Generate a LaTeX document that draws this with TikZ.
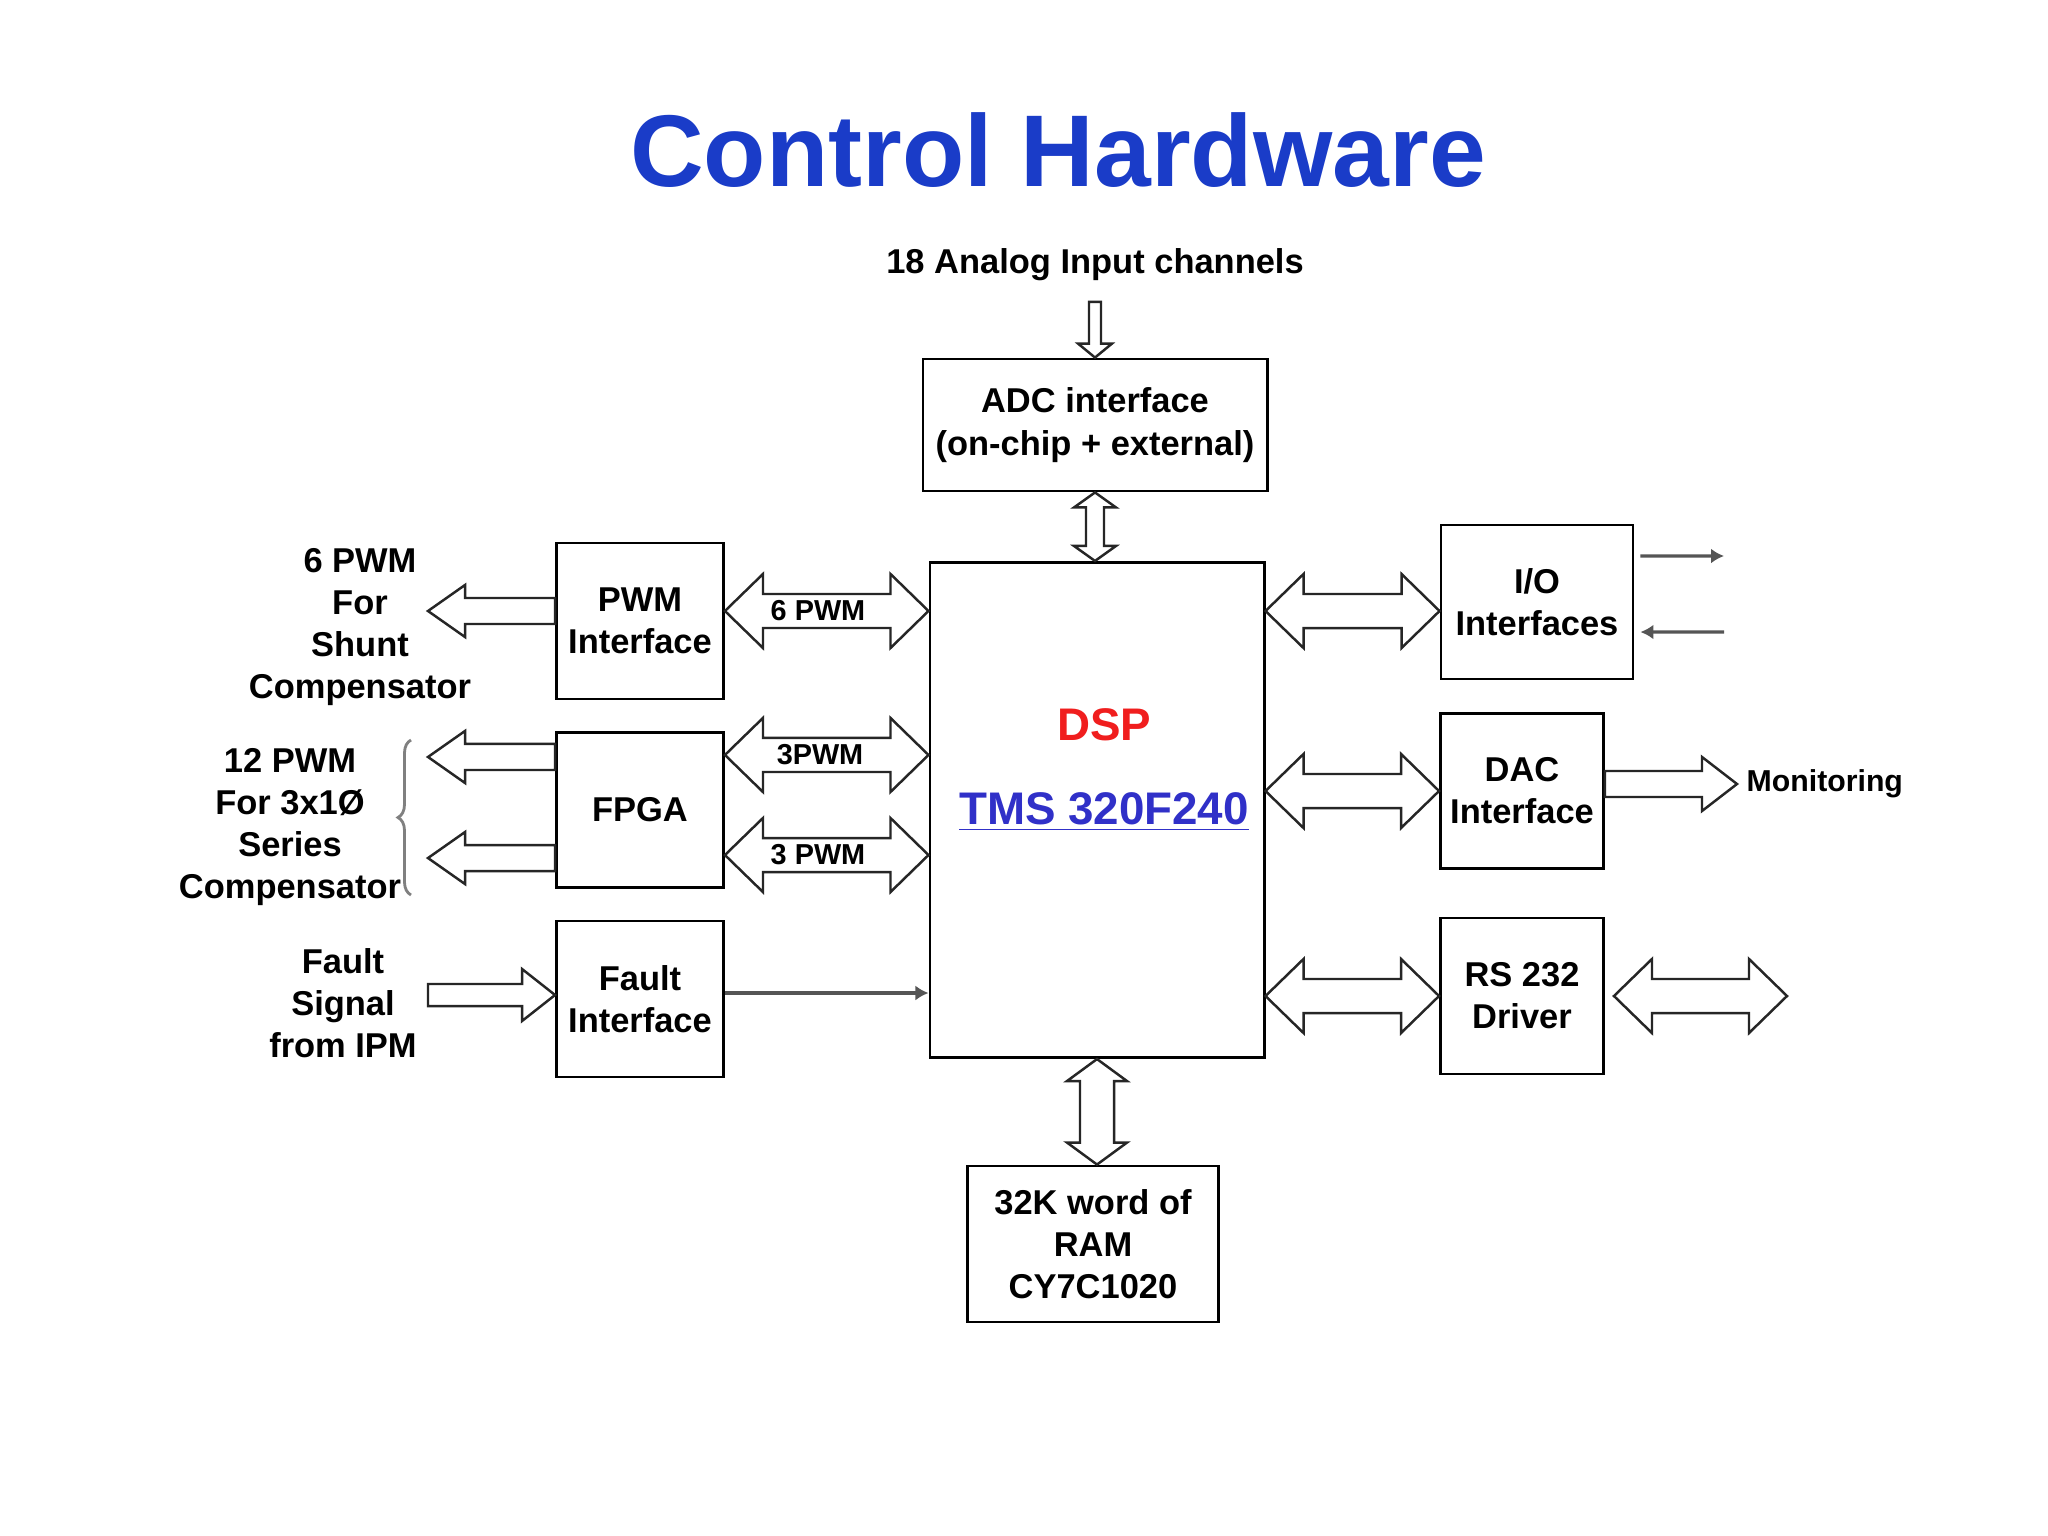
\documentclass[tikz,border=0pt]{standalone}
\usepackage{fontspec}
\setmainfont{Liberation Sans}
\definecolor{slideblue}{HTML}{1A3CC8}
\definecolor{dspred}{HTML}{F01E1E}
\definecolor{chipblue}{HTML}{3030C8}
\definecolor{wiregray}{HTML}{555555}
\usetikzlibrary{arrows.meta,positioning,calc,decorations.pathreplacing}
\tikzset{
    ctrlbox/.style={
        draw=black,
        fill=white,
        line width=0.8pt,
        inner sep=0pt,
        align=center,
        font=\bfseries\fontsize{9.8}{12}\selectfont
    },
    ctrllabel/.style={
        inner sep=0pt,
        align=center,
        font=\bfseries\fontsize{9.8}{12}\selectfont
    },
    ctrlbuslabel/.style={
        inner sep=0pt,
        font=\bfseries\fontsize{8.2}{10}\selectfont
    },
    ctrlbus/.style={
        draw=black!85,
        line width=0.7pt,
        line join=miter
    },
    ctrlsignal/.style={
        -{Latex[length=1.3mm,width=1.5mm]},
        draw=wiregray,
        line width=0.9pt
    },
    ctrlbrace/.style={
        decorate,
        decoration={brace,amplitude=0.13cm},
        draw=black!50,
        line width=0.8pt
    }
}
% hollow bus arrows: #1,#2 ends, #3 shaft half width, #4 head half width, #5 head length
\newcommand{\hbus}[5]{%
    \draw[ctrlbus] let \p1=#1, \p2=#2, \n1={sign(\x2-\x1)} in
        (\x1,\y1) -- ({\x1+\n1*#5},{\y1+#4}) -- ({\x1+\n1*#5},{\y1+#3})
        -- ({\x2-\n1*#5},{\y1+#3}) -- ({\x2-\n1*#5},{\y1+#4}) -- (\x2,\y1)
        -- ({\x2-\n1*#5},{\y1-#4}) -- ({\x2-\n1*#5},{\y1-#3})
        -- ({\x1+\n1*#5},{\y1-#3}) -- ({\x1+\n1*#5},{\y1-#4}) -- cycle;}
\newcommand{\harrow}[5]{%
    \draw[ctrlbus] let \p1=#1, \p2=#2, \n1={sign(\x2-\x1)} in
        (\x2,\y1) -- ({\x2-\n1*#5},{\y1+#4}) -- ({\x2-\n1*#5},{\y1+#3})
        -- (\x1,{\y1+#3}) -- (\x1,{\y1-#3}) -- ({\x2-\n1*#5},{\y1-#3})
        -- ({\x2-\n1*#5},{\y1-#4}) -- cycle;}
\newcommand{\vbus}[5]{%
    \draw[ctrlbus] let \p1=#1, \p2=#2, \n1={sign(\y2-\y1)} in
        (\x1,\y1) -- ({\x1+#4},{\y1+\n1*#5}) -- ({\x1+#3},{\y1+\n1*#5})
        -- ({\x1+#3},{\y2-\n1*#5}) -- ({\x1+#4},{\y2-\n1*#5}) -- (\x1,\y2)
        -- ({\x1-#4},{\y2-\n1*#5}) -- ({\x1-#3},{\y2-\n1*#5})
        -- ({\x1-#3},{\y1+\n1*#5}) -- ({\x1-#4},{\y1+\n1*#5}) -- cycle;}
\newcommand{\varrow}[5]{%
    \draw[ctrlbus] let \p1=#1, \p2=#2, \n1={sign(\y2-\y1)} in
        (\x1,\y2) -- ({\x1+#4},{\y2-\n1*#5}) -- ({\x1+#3},{\y2-\n1*#5})
        -- ({\x1+#3},\y1) -- ({\x1-#3},\y1) -- ({\x1-#3},{\y2-\n1*#5})
        -- ({\x1-#4},{\y2-\n1*#5}) -- cycle;}

\begin{document}
\begin{tikzpicture}[x=0.01cm,y=-0.01cm]
    \useasboundingbox[fill=white] (0,0) rectangle (2048,1536);

    \node[font=\bfseries\fontsize{29}{34}\selectfont,text=slideblue] (title)
        at (1058,150) {Control Hardware};
    \node[ctrllabel] (analog) at (1095,265) {18 Analog Input channels};

    % boxes
    \node[ctrlbox,minimum width=3.44cm,minimum height=1.32cm] (adc) at (1095,425)
        {ADC interface\\(on-chip + external)};
    \node[ctrlbox,minimum width=3.34cm,minimum height=4.95cm] (dsp) at (1097,810) {};
    \node[ctrlbox,minimum width=1.67cm,minimum height=1.56cm] (pwm) at (640,621)
        {PWM\\Interface};
    \node[ctrlbox,minimum width=1.67cm,minimum height=1.55cm] (fpga) at (640,810)
        {FPGA};
    \node[ctrlbox,minimum width=1.67cm,minimum height=1.56cm] (fault) at (640,999)
        {Fault\\Interface};
    \node[ctrlbox,minimum width=1.92cm,minimum height=1.54cm] (io) at (1537,602)
        {I/O\\Interfaces};
    \node[ctrlbox,minimum width=1.63cm,minimum height=1.55cm] (dac) at (1522,791)
        {DAC\\Interface};
    \node[ctrlbox,minimum width=1.63cm,minimum height=1.56cm] (rs) at (1522,996)
        {RS 232\\Driver};
    \node[ctrlbox,minimum width=2.51cm,minimum height=1.56cm] (ram) at (1093,1244)
        {32K word of\\RAM\\CY7C1020};

    \node[font=\bfseries\fontsize{13}{15}\selectfont,text=dspred] (dspname)
        at (1104,725) {DSP};
    \node[font=\bfseries\fontsize{13}{15}\selectfont,text=chipblue] (dspchip)
        at (1104,812) {\underline{TMS 320F240}};

    % side labels
    \node[ctrllabel] (shuntlabel) at (360,627) {6 PWM\\For\\Shunt\\Compensator};
    \node[ctrllabel] (serieslabel) at (290,827) {12 PWM\\For 3x1Ø\\Series\\Compensator};
    \node[ctrllabel] (faultlabel) at (343,1003) {Fault\\Signal\\from IPM};
    \node[ctrllabel,font=\bfseries\fontsize{8.6}{10}\selectfont,anchor=west,
        inner sep=0.09cm] (mon) at (1737,784) {Monitoring};

    \coordinate (pwmtip) at (428,611);
    \coordinate (fpgatipa) at (428,757);
    \coordinate (fpgatipb) at (428,858);
    \coordinate (faulttail) at (428,995);
    \coordinate (ioout) at (1724,556);
    \coordinate (ioin) at (1724,632);
    \coordinate (rsport) at (1787,997);
    \coordinate (bracelow) at (411,895);
    \coordinate (bracehigh) at (411,740);

    % vertical buses
    \varrow{([yshift=-0.2cm]analog.south)}{(adc.north)}{0.06cm}{0.17cm}{0.14cm}
    \vbus{(adc.south)}{(dsp.north)}{0.09cm}{0.21cm}{0.15cm}
    \vbus{(dsp.south)}{(ram.north)}{0.17cm}{0.30cm}{0.22cm}

    % left side
    \harrow{([yshift=0.1cm]pwm.west)}{(pwmtip)}{0.13cm}{0.26cm}{0.37cm}
    \harrow{([yshift=0.53cm]fpga.west)}{(fpgatipa)}{0.13cm}{0.26cm}{0.37cm}
    \harrow{([yshift=-0.48cm]fpga.west)}{(fpgatipb)}{0.13cm}{0.26cm}{0.37cm}
    \harrow{(faulttail)}{(fault.west)}{0.11cm}{0.26cm}{0.33cm}
    \draw[ctrlbrace] (bracelow) -- (bracehigh);

    \hbus{([yshift=0.1cm]pwm.east)}{(dsp.west)}{0.17cm}{0.37cm}{0.38cm}
    \hbus{([yshift=0.55cm]fpga.east)}{(dsp.west)}{0.17cm}{0.37cm}{0.38cm}
    \hbus{([yshift=-0.45cm]fpga.east)}{(dsp.west)}{0.17cm}{0.37cm}{0.38cm}
    \node[ctrlbuslabel] (buspwm) at (818,611) {6 PWM};
    \node[ctrlbuslabel] (busfpgaa) at (820,755) {3PWM};
    \node[ctrlbuslabel] (busfpgab) at (818,855) {3 PWM};
    \draw[ctrlsignal] ([yshift=0.06cm]fault.east) -- ([yshift=0.06cm]fault.east -| dsp.west);

    % right side
    \hbus{([yshift=-0.09cm]io.west)}{(dsp.east)}{0.17cm}{0.37cm}{0.38cm}
    \hbus{(dsp.east |- dac.west)}{(dac.west)}{0.17cm}{0.37cm}{0.38cm}
    \hbus{(dsp.east |- rs.west)}{(rs.west)}{0.17cm}{0.37cm}{0.38cm}
    \hbus{([xshift=0.09cm]rs.east)}{(rsport)}{0.17cm}{0.37cm}{0.38cm}
    \harrow{([yshift=0.07cm]dac.east)}{(mon.west)}{0.13cm}{0.27cm}{0.35cm}
    \draw[ctrlsignal] ([xshift=0.06cm,yshift=0.46cm]io.east) -- (ioout);
    \draw[ctrlsignal] (ioin) -- ([xshift=0.06cm,yshift=-0.3cm]io.east);
\end{tikzpicture}
\end{document}
